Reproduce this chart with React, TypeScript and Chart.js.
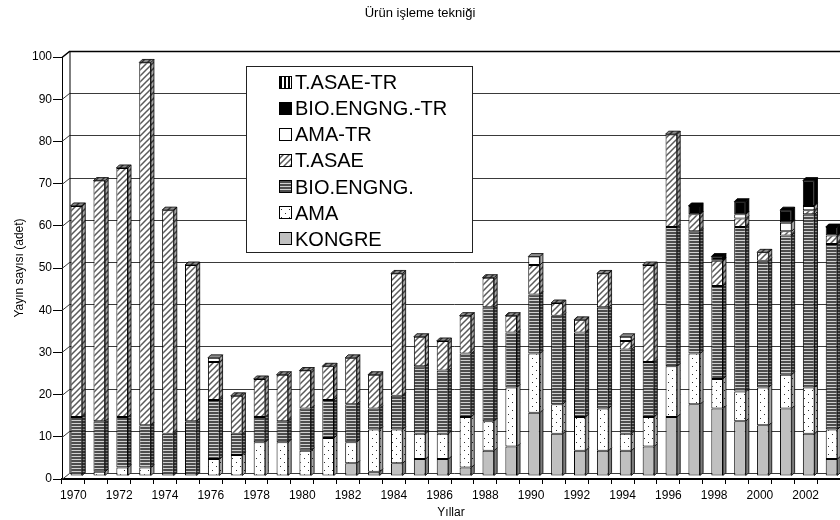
import React, { useEffect, useRef } from 'react';
import { Chart, registerables } from 'chart.js';

Chart.register(...registerables);

const years = ['1970','1971','1972','1973','1974','1975','1976','1977','1978','1979','1980','1981','1982','1983','1984','1985','1986','1987','1988','1989','1990','1991','1992','1993','1994','1995','1996','1997','1998','1999','2000','2001','2002','2003'];

const kongre   = [0,0,0,0,0,0,0,0,0,0,0,0,3,1,3,4,4,2,6,7,15,10,6,6,6,7,14,17,16,13,12,16,10,4];
const ama      = [0,1,2,2,0,0,4,5,8,8,6,9,5,10,8,6,6,12,7,14,14,7,8,10,4,7,12,12,7,7,9,8,11,7];
const bioEng   = [14,12,12,10,10,13,14,5,6,5,10,9,9,5,8,16,15,15,27,13,14,21,20,24,20,13,33,29,22,39,30,33,41,44];
const tAsae    = [50,57,59,86,53,37,9,9,9,11,9,8,11,8,29,7,7,9,7,4,7,3,3,8,2,23,22,4,6,2,2,1,1,2];
const amaTr    = [0,0,0,0,0,0,1,0,0,0,0,0,0,0,0,0,0,0,0,0,2,0,0,0,1,0,0,0,0,1,0,2,1,0];
const bioEngTr = [0,0,0,0,0,0,0,0,0,0,0,0,0,0,0,0,0,0,0,0,0,0,0,0,0,0,0,2,1,3,0,3,6,2];
const tAsaeTr  = [0,0,0,0,0,0,0,0,0,0,0,0,0,0,0,0,0,0,0,0,0,0,0,0,0,0,0,0,0,0,0,0,0,0];

const seriesNames = ['KONGRE', 'AMA', 'BIO.ENGNG.', 'T.ASAE', 'AMA-TR', 'BIO.ENGNG.-TR', 'T.ASAE-TR'];
const seriesData = [kongre, ama, bioEng, tAsae, amaTr, bioEngTr, tAsaeTr];
const seriesFill = ['solid:#c0c0c0', 'dots', 'hstripes', 'diag', 'solid:#ffffff', 'solid:#000000', 'vstripes'];

const FONT = "'Liberation Sans', Arial, Helvetica, sans-serif";

function makeFill(kind: string): any {
  if (kind.startsWith('solid:')) return kind.slice(6);
  const c = document.createElement('canvas');
  const g = c.getContext('2d') as CanvasRenderingContext2D;
  if (kind === 'dots') {
    c.width = 8; c.height = 8;
    g.fillStyle = '#ffffff'; g.fillRect(0, 0, 8, 8);
    g.fillStyle = '#303030';
    g.fillRect(1, 1, 1, 1); g.fillRect(5, 5, 1, 1);
  } else if (kind === 'hstripes') {
    c.width = 4; c.height = 3;
    g.fillStyle = '#4d4d4d'; g.fillRect(0, 0, 4, 3);
    g.fillStyle = '#d0d0d0'; g.fillRect(0, 0, 4, 1);
  } else if (kind === 'diag') {
    c.width = 6; c.height = 6;
    g.fillStyle = '#ffffff'; g.fillRect(0, 0, 6, 6);
    g.strokeStyle = '#5a5a5a'; g.lineWidth = 1.5;
    g.beginPath();
    g.moveTo(-1, 7); g.lineTo(7, -1);
    g.moveTo(-4, 4); g.lineTo(4, -4);
    g.moveTo(2, 10); g.lineTo(10, 2);
    g.stroke();
  } else if (kind === 'vstripes') {
    c.width = 4; c.height = 1;
    g.fillStyle = '#ffffff'; g.fillRect(0, 0, 4, 1);
    g.fillStyle = '#000000'; g.fillRect(0, 0, 2, 1);
  }
  const p = g.createPattern(c, 'repeat');
  return p || '#888';
}

const DEPTH_X = 3;
const DEPTH_Y = -3;
const WALL_X = 7.5;
const WALL_Y = -6;

const wallsPlugin = {
  id: 'walls3d',
  beforeDatasetsDraw(chart: any) {
    const { ctx, chartArea: a, scales } = chart;
    const y = scales.y;
    ctx.save();
    ctx.lineWidth = 1;
    y.ticks.forEach((t: any) => {
      const py = Math.round(y.getPixelForValue(t.value)) + 0.5;
      ctx.strokeStyle = t.value === 100 ? '#000000' : '#3a3a3a';
      ctx.lineWidth = t.value === 100 ? 1.6 : 1;
      ctx.beginPath();
      ctx.moveTo(a.left, py);
      ctx.lineTo(a.left + WALL_X, py + WALL_Y);
      ctx.lineTo(a.right, py + WALL_Y);
      ctx.stroke();
    });
    ctx.strokeStyle = '#000000';
    ctx.lineWidth = 1;
    ctx.beginPath();
    ctx.moveTo(a.left + WALL_X + 0.5, y.getPixelForValue(0) + WALL_Y);
    ctx.lineTo(a.left + WALL_X + 0.5, y.getPixelForValue(100) + WALL_Y);
    ctx.stroke();
    ctx.restore();
    ctx.save();
    ctx.translate(3, -3);
  },
  afterDatasetsDraw(chart: any) {
    const { ctx } = chart;
    const n = chart.data.labels.length;
    const dsCount = chart.data.datasets.length;
    for (let j = 0; j < n; j++) {
      let topEl: any = null;
      let topDs = -1;
      for (let d = 0; d < dsCount; d++) {
        const meta = chart.getDatasetMeta(d);
        const el = meta.data[j];
        if (!el) continue;
        const p = el.getProps(['x', 'y', 'base', 'width'], true);
        const h = Math.abs(p.base - p.y);
        if (h < 0.5) continue;
        const r = p.x + p.width / 2;
        const fill = chart.data.datasets[d].backgroundColor;
        ctx.beginPath();
        ctx.moveTo(r, p.y);
        ctx.lineTo(r + DEPTH_X, p.y + DEPTH_Y);
        ctx.lineTo(r + DEPTH_X, p.base + DEPTH_Y);
        ctx.lineTo(r, p.base);
        ctx.closePath();
        ctx.fillStyle = fill;
        ctx.fill();
        ctx.fillStyle = 'rgba(0,0,0,0.35)';
        ctx.fill();
        ctx.strokeStyle = '#000';
        ctx.lineWidth = 0.8;
        ctx.stroke();
        topEl = p;
        topDs = d;
      }
      if (topEl) {
        const l = topEl.x - topEl.width / 2;
        const r = topEl.x + topEl.width / 2;
        ctx.beginPath();
        ctx.moveTo(l, topEl.y);
        ctx.lineTo(l + DEPTH_X, topEl.y + DEPTH_Y);
        ctx.lineTo(r + DEPTH_X, topEl.y + DEPTH_Y);
        ctx.lineTo(r, topEl.y);
        ctx.closePath();
        ctx.fillStyle = chart.data.datasets[topDs].backgroundColor;
        ctx.fill();
        ctx.fillStyle = 'rgba(0,0,0,0.45)';
        ctx.fill();
        ctx.strokeStyle = '#000';
        ctx.lineWidth = 0.8;
        ctx.stroke();
      }
    }
    ctx.restore();
  },
};

const legendPlugin = {
  id: 'boxLegend',
  afterDraw(chart: any) {
    const { ctx } = chart;
    const bx = 246.5, by = 66.5, bw = 226, bh = 186;
    ctx.save();
    ctx.fillStyle = '#ffffff';
    ctx.fillRect(bx, by, bw, bh);
    ctx.strokeStyle = '#222';
    ctx.lineWidth = 1;
    ctx.strokeRect(bx, by, bw, bh);
    const ds = chart.data.datasets;
    ctx.font = `20px ${FONT}`;
    ctx.textBaseline = 'middle';
    ctx.textAlign = 'left';
    for (let k = 0; k < ds.length; k++) {
      const d = ds[ds.length - 1 - k];
      const cy = 82.5 + k * 26.15;
      ctx.fillStyle = d.backgroundColor;
      ctx.fillRect(279.5, Math.round(cy) - 6.5, 12, 12);
      ctx.strokeStyle = '#000';
      ctx.strokeRect(279.5, Math.round(cy) - 6.5, 12, 12);
      ctx.fillStyle = '#000';
      ctx.fillText(d.label, 295, cy + 1);
    }
    ctx.restore();
  },
};

export default function App() {
  const ref = useRef<HTMLCanvasElement | null>(null);
  useEffect(() => {
    if (!ref.current) return;
    const datasets = seriesNames.map((name, i) => ({
      label: name,
      data: seriesData[i],
      backgroundColor: makeFill(seriesFill[i]),
      borderColor: '#000000',
      borderWidth: 1,
      borderSkipped: false,
      barPercentage: 0.51,
      categoryPercentage: 1,
    }));
    const chart = new Chart(ref.current, {
      type: 'bar',
      data: { labels: years, datasets },
      options: {
        animation: false,
        responsive: false,
        devicePixelRatio: 1,
        layout: { padding: { left: 0, right: 0, top: 0, bottom: 0 }, autoPadding: false },
        plugins: {
          legend: { display: false },
          tooltip: { enabled: false },
          title: {
            display: true,
            text: 'Ürün işleme tekniği',
            color: '#000',
            font: { family: FONT, size: 13, weight: 'normal' },
            padding: { top: 6, bottom: 35.4 },
          },
        },
        scales: {
          x: {
            stacked: true,
            grid: { display: true, drawOnChartArea: false, drawTicks: true, tickLength: 5, color: '#000', offset: true },
            border: { display: true, color: '#000', width: 2 },
            ticks: {
              autoSkip: false,
              maxRotation: 0,
              minRotation: 0,
              padding: 4,
              color: '#000',
              font: { family: FONT, size: 12 },
              callback: (_v: any, i: number) => (i % 2 === 0 ? years[i] : ''),
            },
            title: {
              display: true,
              text: 'Yıllar',
              color: '#000',
              font: { family: FONT, size: 12 },
              padding: { top: 0, bottom: 0 },
            },
            afterFit: (s: any) => { s.height = 41; },
          },
          y: {
            stacked: true,
            min: 0,
            max: 100,
            ticks: { stepSize: 10, padding: 1, color: '#000', font: { family: FONT, size: 12 } },
            grid: { drawOnChartArea: false, drawTicks: true, tickLength: 9, color: '#000' },
            border: { display: true, color: '#000', width: 1 },
            title: {
              display: true,
              text: 'Yayın sayısı (adet)',
              color: '#000',
              font: { family: FONT, size: 12 },
              padding: { top: 12, bottom: 0 },
            },
            afterFit: (s: any) => { s.width = 62; },
          },
        },
      } as any,
      plugins: [wallsPlugin, legendPlugin],
    });
    return () => chart.destroy();
  }, []);
  return (
    <div style={{ position: 'absolute', left: 0, top: 0, width: 840, height: 520, background: '#fff' }}>
      <canvas ref={ref} width={840} height={520} style={{ display: 'block' }} />
    </div>
  );
}
